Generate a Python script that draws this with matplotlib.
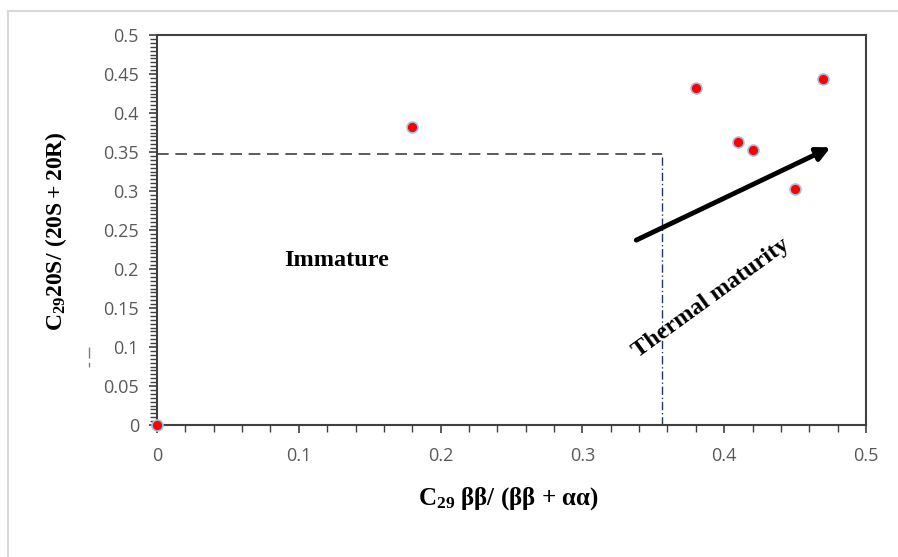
import matplotlib
matplotlib.use("Agg")
import matplotlib.pyplot as plt
from matplotlib.lines import Line2D
from matplotlib.ticker import MultipleLocator

# Data
x_vals = [0.0, 0.18, 0.38, 0.41, 0.42, 0.45, 0.47]
y_vals = [0.0, 0.382, 0.432, 0.363, 0.352, 0.302, 0.443]
x_ticks = [0, 0.1, 0.2, 0.3, 0.4, 0.5]
x_tick_labels = ["0", "0.1", "0.2", "0.3", "0.4", "0.5"]
y_ticks = [0, 0.05, 0.1, 0.15, 0.2, 0.25, 0.3, 0.35, 0.4, 0.45, 0.5]
y_tick_labels = ["0", "0.05", "0.1", "0.15", "0.2", "0.25", "0.3", "0.35", "0.4", "0.45", "0.5"]
threshold_x = 0.356
threshold_y = 0.348
arrow_start = (0.338, 0.237)
arrow_end = (0.475, 0.356)

plt.rcParams['mathtext.fontset'] = 'custom'
plt.rcParams['mathtext.rm'] = 'Liberation Serif:bold'
plt.rcParams['mathtext.bf'] = 'Liberation Serif:bold'
plt.rcParams['mathtext.it'] = 'Liberation Serif:bold'

fig = plt.figure(figsize=(8.98, 5.57), dpi=100)
ax = fig.add_axes([157/898, 1-425/557, (866-157)/898, (425-35)/557])

# Threshold lines
ax.plot([0, threshold_x], [threshold_y, threshold_y], color='#404040', lw=1.2,
        dashes=(7, 4))
ax.plot([threshold_x, threshold_x], [0, threshold_y], color='#1F3864', lw=1.0,
        dashes=(6, 2, 1, 2))

# Points
ax.scatter(x_vals, y_vals, s=62, c='#FF0000', edgecolors='#9DC3E6',
           linewidths=1.2, zorder=5, clip_on=False)

# Arrow
ax.annotate('', xy=arrow_end, xytext=arrow_start,
            arrowprops=dict(arrowstyle='-|>', lw=3.5, color='black',
                            mutation_scale=20, shrinkA=0, shrinkB=0))

ax.text(0.127, 0.2115, 'Immature', family='Liberation Serif', weight='bold',
        fontsize=17.5, ha='center', va='center')
ax.text(0.391, 0.163, 'Thermal maturity', family='Liberation Serif', weight='bold',
        fontsize=17.5, ha='center', va='center', rotation=36,
        rotation_mode='anchor')

ax.set_xlim(0, 0.5)
ax.set_ylim(0, 0.5)
ax.set_xticks(x_ticks)
ax.set_xticklabels(x_tick_labels)
ax.set_yticks(y_ticks)
ax.set_yticklabels(y_tick_labels)
ax.xaxis.set_minor_locator(MultipleLocator(0.02))
ax.yaxis.set_minor_locator(MultipleLocator(0.005))
ax.tick_params(axis='both', which='major', direction='out', length=6, width=1.2,
               color='#404040', labelcolor='#595959', labelsize=13)
ax.tick_params(axis='x', which='major', pad=10)
ax.tick_params(axis='y', which='major', pad=7)
ax.tick_params(axis='both', which='minor', direction='out', length=5, width=1.0,
               color='#404040')
for lab in ax.get_xticklabels() + ax.get_yticklabels():
    lab.set_family('Open Sans')

for s in ['left', 'bottom', 'top', 'right']:
    ax.spines[s].set_color('#404040')
    ax.spines[s].set_linewidth(1.5)

# Axis labels
fig.text(508/898, 1-499/557, r'$\mathbf{C_{29}}$ ββ/ (ββ + αα)',
         family='Liberation Serif', weight='bold', fontsize=18,
         ha='center', va='center')
fig.text(56/898, 1-231/557, r'$\mathbf{C_{29}20S/\ (20S+20R)}$',
         fontsize=17, ha='center', va='center', rotation=90)

# stray mark
fig.add_artist(Line2D([89/898, 89/898], [1-347/557, 1-367/557], color='#808080',
                      lw=1.0, dashes=(8, 3)))

# outer frame
fig.add_artist(Line2D([8/898, 8/898], [0, 1-11/557], color='#d9d9d9', lw=1.5))
fig.add_artist(Line2D([8/898, 1], [1-11/557, 1-11/557], color='#d9d9d9', lw=1.5))

fig.savefig('out.png', dpi=100)
